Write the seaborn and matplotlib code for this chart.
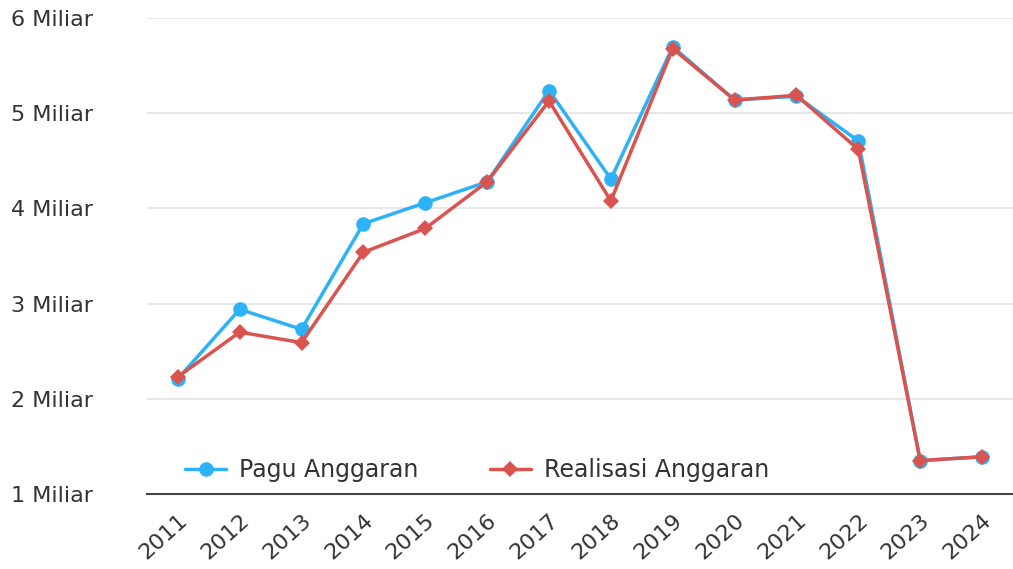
import matplotlib
matplotlib.use("Agg")
import matplotlib.pyplot as plt
from matplotlib.font_manager import FontProperties
import seaborn as sns
import pandas as pd

years = ["2011", "2012", "2013", "2014", "2015", "2016", "2017", "2018", "2019", "2020", "2021", "2022", "2023", "2024"]
pagu = [2.21, 2.94, 2.73, 3.84, 4.06, 4.28, 5.24, 4.31, 5.70, 5.14, 5.18, 4.71, 1.35, 1.39]
realisasi = [2.23, 2.70, 2.59, 3.54, 3.79, 4.28, 5.13, 4.08, 5.68, 5.14, 5.19, 4.62, 1.35, 1.39]
yticks = [1, 2, 3, 4, 5, 6]
ytick_labels = ["1 Miliar", "2 Miliar", "3 Miliar", "4 Miliar", "5 Miliar", "6 Miliar"]
series_names = ["Pagu Anggaran", "Realisasi Anggaran"]

sns.set_theme(style="white")
plt.rcParams['font.family'] = ['DejaVu Sans']

df_pagu = pd.DataFrame({"year": years, "value": pagu})
df_real = pd.DataFrame({"year": years, "value": realisasi})

fig = plt.figure(figsize=(10.13, 5.69), dpi=100)
ax = fig.add_axes([0.145, 0.132, 0.855, 0.836])

sns.lineplot(data=df_pagu, x="year", y="value", color="#2db2f7", marker="o",
             markersize=10.5, markeredgewidth=0, linewidth=2.5, ax=ax, sort=False,
             label=series_names[0])
sns.lineplot(data=df_real, x="year", y="value", color="#d9534f", marker="D",
             markersize=8.5, markeredgewidth=0, linewidth=2.5, ax=ax, sort=False,
             label=series_names[1])

ax.set_xlim(-0.5, len(years) - 0.5)
ax.set_ylim(1, 6)
ax.set_yticks(yticks)
ax.set_yticklabels(ytick_labels, fontsize=16, color="#333333")
ax.set_xticks(range(len(years)))
ax.set_xticklabels(years, rotation=42, ha="right", rotation_mode="anchor", fontsize=16, color="#333333")
ax.tick_params(axis="both", length=0)
ax.tick_params(axis="y", pad=98)
ax.tick_params(axis="x", pad=12)
for lbl in ax.get_yticklabels():
    lbl.set_horizontalalignment("left")
ax.grid(axis="y", color="#e3e3e3", linewidth=1.2)
ax.set_xlabel("")
ax.set_ylabel("")
for s in ["top", "right", "left"]:
    ax.spines[s].set_visible(False)
ax.spines["bottom"].set_color("#444444")
ax.spines["bottom"].set_linewidth(1.5)

leg_font = FontProperties(family="DejaVu Sans", size=17, stretch="normal", weight="normal")
leg = ax.legend(loc="center left", bbox_to_anchor=(0.044, 0.05), ncol=2, frameon=False,
                prop=leg_font, handlelength=1.75, handletextpad=0.55, columnspacing=3.0,
                borderaxespad=0, borderpad=0)
for t in leg.get_texts():
    t.set_color("#333333")

fig.savefig("out.png", dpi=100)
